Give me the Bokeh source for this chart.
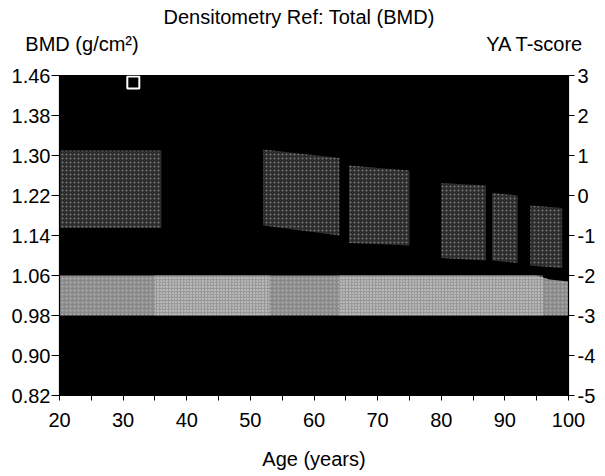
from bokeh.plotting import figure
from bokeh.models import (Range1d, LinearAxis, FixedTicker, PrintfTickFormatter,
                          CustomJSTickFormatter, Title)
from bokeh.embed import file_html
from bokeh.resources import INLINE

# ---- data ----
x_ticks = [20, 30, 40, 50, 60, 70, 80, 90, 100]
x_minor = [25, 35, 45, 55, 65, 75, 85, 95]
bmd_ticks = [0.82, 0.90, 0.98, 1.06, 1.14, 1.22, 1.30, 1.38, 1.46]
t_ticks = [-5, -4, -3, -2, -1, 0, 1, 2, 3]

# light (lower) reference band
low_band_age = [20, 95, 97, 100]
low_band_top = [1.06, 1.06, 1.052, 1.048]
low_band_bot = [0.98, 0.98, 0.98, 0.98]
# brighter (speckled) zones inside the light band
bright_start = [35, 64]
bright_end = [53, 96]

# visible pieces of the upper (age-matched) band
seg_age = [[20, 36], [52, 64], [65.5, 75], [80, 87], [88, 92], [94, 99]]
seg_top = [[1.31, 1.31], [1.312, 1.295], [1.28, 1.27], [1.245, 1.24], [1.225, 1.22], [1.20, 1.195]]
seg_bot = [[1.155, 1.155], [1.16, 1.14], [1.125, 1.12], [1.095, 1.09], [1.09, 1.085], [1.08, 1.075]]

# patient measurement
pt_age = [31.6]
pt_bmd = [1.446]

# caption row above the chart: the two scale names (centred at these ages)
caption_pos = [23.54, 94.73]
caption_text = ["BMD (g/cm²)", "YA T-score"]

FONT = "Liberation Sans"
FS = "20px"

p = figure(width=605, height=476, x_range=Range1d(20, 100),
           y_range=Range1d(0.82, 1.46), output_backend="svg", toolbar_location=None,
           min_border_left=59, min_border_top=75, min_border_bottom=81,
           min_border_right=37)
p.background_fill_color = "black"
p.border_fill_color = "white"
p.outline_line_color = "black"
p.xgrid.visible = False
p.ygrid.visible = False

p.extra_y_ranges = {"t": Range1d(-5, 3)}

# bands
p.varea(x=low_band_age, y1=low_band_bot, y2=low_band_top, fill_color="#8a8a8a",
        hatch_pattern="dot", hatch_color="#d0d0d0", hatch_scale=4, hatch_alpha=0.6)
for s, e in zip(bright_start, bright_end):
    p.varea(x=[s, e], y1=[0.98, 0.98], y2=[1.06, 1.06], fill_color="#a4a4a4", fill_alpha=0.5,
            hatch_pattern="dot", hatch_color="white", hatch_scale=3, hatch_alpha=0.7)

for a, t, b in zip(seg_age, seg_top, seg_bot):
    p.varea(x=a, y1=b, y2=t, fill_color="#2c2c2c",
            hatch_pattern="dot", hatch_color="#8c8c8c", hatch_scale=4, hatch_alpha=0.8)

p.scatter(pt_age, pt_bmd, marker="square", size=12, fill_color=None,
          line_color="white", line_width=2)

# axes
xa = p.xaxis[0]
xa.ticker = FixedTicker(ticks=x_ticks, minor_ticks=x_minor)
xa.axis_label = "Age (years)"
ya = p.yaxis[0]
ya.ticker = FixedTicker(ticks=bmd_ticks)
ya.formatter = PrintfTickFormatter(format="%.2f")

ra = LinearAxis(y_range_name="t", ticker=FixedTicker(ticks=t_ticks),
                formatter=PrintfTickFormatter(format="%d"))
p.add_layout(ra, "right")

for ax in (xa, ya, ra):
    ax.axis_line_color = "black"
    ax.axis_line_width = 1.2
    ax.major_tick_line_color = "black"
    ax.major_tick_in = 0
    ax.major_label_text_font = FONT
    ax.major_label_text_font_size = FS
    ax.major_label_text_color = "black"
    ax.axis_label_text_font = FONT
    ax.axis_label_text_font_size = FS
    ax.axis_label_text_font_style = "normal"
    ax.axis_label_text_color = "black"

xa.major_tick_out = 5
xa.minor_tick_out = 5
xa.minor_tick_in = 0
xa.minor_tick_line_color = "black"
xa.major_label_standoff = 12
xa.axis_label_standoff = 18
ya.major_tick_out = 8
ya.minor_tick_line_color = None
ya.major_label_standoff = 1
ra.major_tick_out = 6
ra.minor_tick_line_color = None
ra.major_label_standoff = 3

# caption row (scale names) as an undecorated axis above the frame
cap_code = ("const names = %r; const pos = %r; "
            "let best = 0; for (let i = 0; i < pos.length; i++) { "
            "if (Math.abs(pos[i] - tick) < Math.abs(pos[best] - tick)) best = i; } "
            "return names[best];") % (caption_text, caption_pos)
cap = LinearAxis(ticker=FixedTicker(ticks=caption_pos),
                 formatter=CustomJSTickFormatter(code=cap_code))
cap.axis_line_color = None
cap.major_tick_line_color = None
cap.minor_tick_line_color = None
cap.major_label_text_font = FONT
cap.major_label_text_font_size = FS
cap.major_label_text_color = "black"
cap.major_label_standoff = 15
p.add_layout(cap, "above")

# chart title
p.title = Title(text="Densitometry Ref: Total (BMD)", align="left", offset=104,
                text_font=FONT, text_font_size=FS, text_font_style="normal",
                text_color="black", standoff=4)

open("out.html", "w").write(file_html(p, INLINE))
